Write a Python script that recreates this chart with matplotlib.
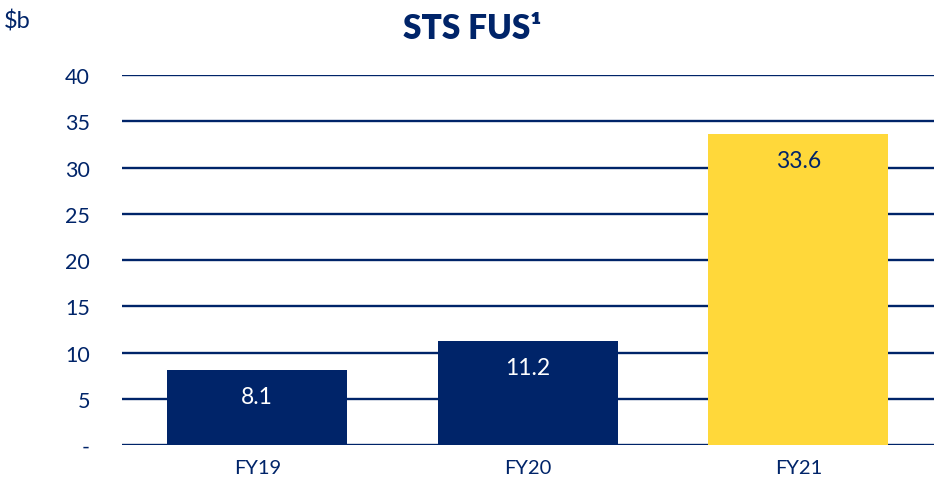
import matplotlib
matplotlib.use('Agg')
import matplotlib.pyplot as plt

# Dados do grafico
categorias = ['FY19', 'FY20', 'FY21']
valores = [8.1, 11.2, 33.6]
rotulos = ['8.1', '11.2', '33.6']
yticks = [0, 5, 10, 15, 20, 25, 30, 35, 40]
ytick_labels = ['-', '5', '10', '15', '20', '25', '30', '35', '40']

NAVY = '#002469'
YELLOW = '#FFD83A'
cores = [NAVY, NAVY, YELLOW]
cores_texto = ['white', 'white', NAVY]

plt.rcParams['font.family'] = ['Lato', 'DejaVu Sans']

fig = plt.figure(figsize=(9.35, 4.89), dpi=100)
ax = fig.add_axes([0.1305, 0.0879, 0.868, 0.7566])

ax.bar(range(len(categorias)), valores, width=0.665, color=cores, zorder=3)

# Rotulos de valor dentro das barras
for i, v in enumerate(valores):
    ax.annotate(rotulos[i], (i, v), xytext=(0, -19), textcoords='offset points',
                ha='center', va='center', fontsize=16.5, color=cores_texto[i], zorder=4)

ax.set_xlim(-0.5, 2.5)
ax.set_ylim(0, 40)
ax.set_yticks(yticks)
ax.set_yticklabels(ytick_labels)
ax.set_xticks(range(len(categorias)))
ax.set_xticklabels(categorias)
ax.tick_params(axis='y', length=0, pad=23, labelsize=15.5, labelcolor=NAVY)
ax.tick_params(axis='x', length=0, pad=10, labelsize=14.5, labelcolor=NAVY)
ax.grid(axis='y', color=NAVY, linewidth=1.7, zorder=0)
ax.set_axisbelow(True)
for s in ax.spines.values():
    s.set_visible(False)

fig.text(0.505, 0.94, 'STS FUS\u00b9', ha='center', va='center', fontsize=24,
         fontweight='heavy', color=NAVY)
fig.text(0.004, 0.957, '$b', ha='left', va='center', fontsize=17, color=NAVY)

plt.savefig('out.png', dpi=100)
plt.close()
